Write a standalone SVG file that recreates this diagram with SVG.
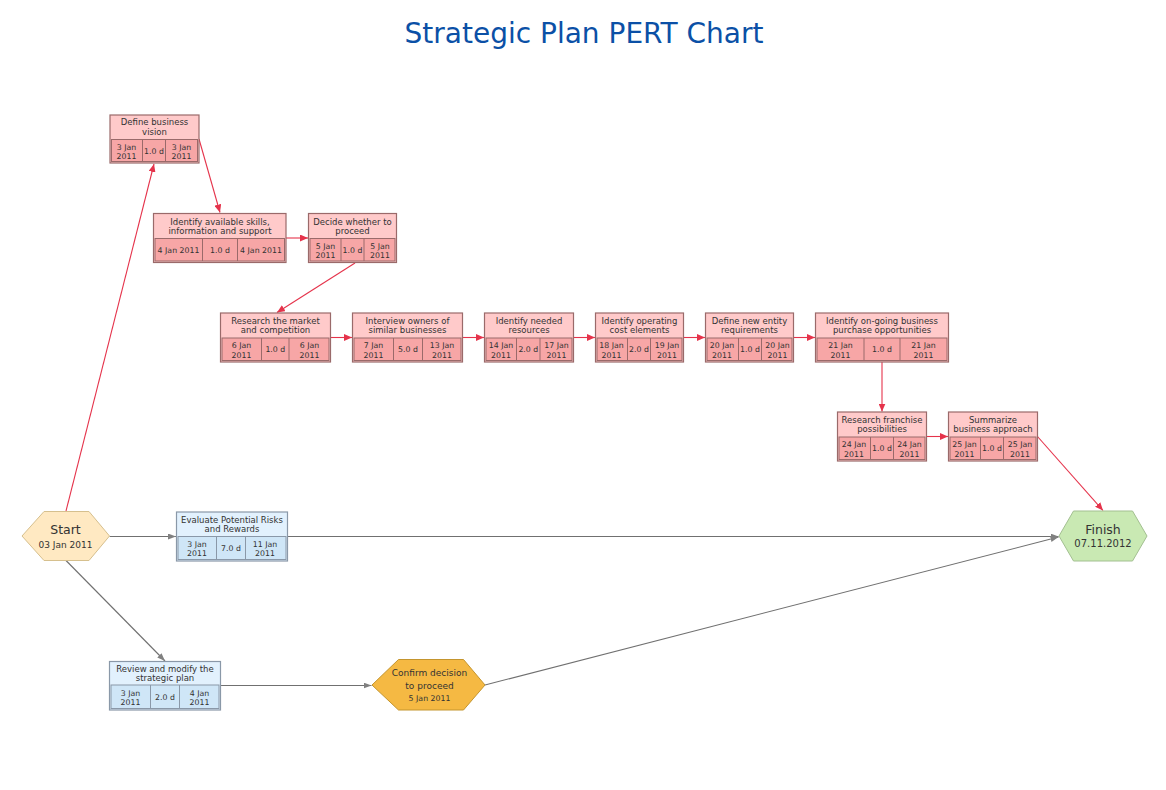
<svg xmlns="http://www.w3.org/2000/svg" width="1166" height="790" viewBox="0 0 1166 790">
<style>
text{font-family:"DejaVu Sans","Liberation Sans",sans-serif;fill:#333;text-anchor:middle}
.title{font-size:28px;fill:#0b50a6}
.t{font-size:8.5px}
.c{font-size:7.8px}
.po{fill:#ffcaca;stroke:#9a6a6a;stroke-width:1.2}
.pc{fill:#f7a6a6;stroke:#9a6a6a;stroke-width:1}
.bo{fill:#e2f1fd;stroke:#8a98a8;stroke-width:1.2}
.bc{fill:#cfe6f7;stroke:#8a98a8;stroke-width:1}
.dv{stroke-width:1}
.pd{stroke:#9a6a6a}
.bd{stroke:#8a98a8}
.red{stroke:#e5334b;stroke-width:1.1;fill:none;marker-end:url(#ar)}
.gry{stroke:#707070;stroke-width:1.1;fill:none;marker-end:url(#ag)}
.big{font-size:12.5px}
.sm{font-size:9px}
</style>
<defs>
<marker id="ar" markerUnits="userSpaceOnUse" markerWidth="9" markerHeight="7" refX="8" refY="3.5" orient="auto"><path d="M0,0 L8,3.5 L0,7 z" fill="#e5334b"/></marker>
<marker id="ag" markerUnits="userSpaceOnUse" markerWidth="9" markerHeight="7" refX="8" refY="3" orient="auto"><path d="M0,0 L8,3 L0,6 z" fill="#808080"/></marker>
</defs>
<text class="title" x="584" y="42.5">Strategic Plan PERT Chart</text>
<g id="connectors">
<line class="red" x1="66" y1="511" x2="154" y2="164"/>
<line class="red" x1="199" y1="139" x2="220" y2="212.5"/>
<line class="red" x1="286" y1="238" x2="308" y2="238"/>
<line class="red" x1="355" y1="263" x2="277" y2="312.5"/>
<line class="red" x1="330.5" y1="337.5" x2="352" y2="337.5"/>
<line class="red" x1="462.5" y1="337.5" x2="484" y2="337.5"/>
<line class="red" x1="573.5" y1="337.5" x2="595" y2="337.5"/>
<line class="red" x1="683.5" y1="337.5" x2="705" y2="337.5"/>
<line class="red" x1="793.5" y1="337.5" x2="815" y2="337.5"/>
<line class="red" x1="882" y1="362" x2="882" y2="411.5"/>
<line class="red" x1="926.5" y1="436.5" x2="948" y2="436.5"/>
<line class="red" x1="1037.5" y1="436.5" x2="1103" y2="510.5"/>
<line class="gry" x1="109.5" y1="536.5" x2="176" y2="536.5"/>
<line class="gry" x1="287.5" y1="536.5" x2="1058.5" y2="536.5"/>
<line class="gry" x1="66" y1="560.5" x2="165" y2="661"/>
<line class="gry" x1="220.5" y1="685.5" x2="371.5" y2="685.5"/>
<line class="gry" x1="485" y1="685" x2="1058.5" y2="537"/>
</g>
<g id="n1">
<rect class="po" x="110" y="115" width="89" height="48"/>
<rect class="pc" x="111.5" y="139.5" width="86" height="22"/>
<line class="dv pd" x1="142.5" y1="139.5" x2="142.5" y2="161.5"/><line class="dv pd" x1="165.5" y1="139.5" x2="165.5" y2="161.5"/>
<text class="t" x="154.5" y="125">Define business</text><text class="t" x="154.5" y="134.5">vision</text>
<text class="c" x="126.5" y="149.5">3 Jan</text><text class="c" x="126.5" y="158.5">2011</text>
<text class="c" x="154" y="153.5">1.0 d</text>
<text class="c" x="181.5" y="149.5">3 Jan</text><text class="c" x="181.5" y="158.5">2011</text>
</g>
<g id="n2">
<rect class="po" x="153.5" y="213.5" width="132.5" height="49"/>
<rect class="pc" x="155" y="238.5" width="129.5" height="22.5"/>
<line class="dv pd" x1="202.5" y1="238.5" x2="202.5" y2="261"/><line class="dv pd" x1="237.5" y1="238.5" x2="237.5" y2="261"/>
<text class="t" x="220" y="224.5">Identify available skills,</text><text class="t" x="220" y="233.5">information and support</text>
<text class="c" x="178.5" y="253.3">4 Jan 2011</text>
<text class="c" x="220" y="253.3">1.0 d</text>
<text class="c" x="261" y="253.3">4 Jan 2011</text>
</g>
<g id="n3">
<rect class="po" x="308.5" y="213.5" width="88" height="49"/>
<rect class="pc" x="310" y="238.5" width="85" height="22.5"/>
<line class="dv pd" x1="341" y1="238.5" x2="341" y2="261"/><line class="dv pd" x1="364" y1="238.5" x2="364" y2="261"/>
<text class="t" x="352.5" y="224.5">Decide whether to</text><text class="t" x="352.5" y="233.5">proceed</text>
<text class="c" x="325.5" y="248.5">5 Jan</text><text class="c" x="325.5" y="257.5">2011</text>
<text class="c" x="352.5" y="252.5">1.0 d</text>
<text class="c" x="380" y="248.5">5 Jan</text><text class="c" x="380" y="257.5">2011</text>
</g>
<g id="n4">
<rect class="po" x="220.5" y="313" width="110" height="49"/>
<rect class="pc" x="222" y="338" width="107" height="22.5"/>
<line class="dv pd" x1="261.5" y1="338" x2="261.5" y2="360.5"/><line class="dv pd" x1="289" y1="338" x2="289" y2="360.5"/>
<text class="t" x="275.5" y="324">Research the market</text><text class="t" x="275.5" y="333.3">and competition</text>
<text class="c" x="241.5" y="348.3">6 Jan</text><text class="c" x="241.5" y="357.5">2011</text>
<text class="c" x="275.3" y="352">1.0 d</text>
<text class="c" x="309.5" y="348.3">6 Jan</text><text class="c" x="309.5" y="357.5">2011</text>
</g>
<g id="n5">
<rect class="po" x="352.5" y="313" width="110" height="49"/>
<rect class="pc" x="354" y="338" width="107" height="22.5"/>
<line class="dv pd" x1="393.5" y1="338" x2="393.5" y2="360.5"/><line class="dv pd" x1="422.5" y1="338" x2="422.5" y2="360.5"/>
<text class="t" x="407.5" y="324">Interview owners of</text><text class="t" x="407.5" y="333.3">similar businesses</text>
<text class="c" x="373.5" y="348.3">7 Jan</text><text class="c" x="373.5" y="357.5">2011</text>
<text class="c" x="408" y="352">5.0 d</text>
<text class="c" x="442" y="348.3">13 Jan</text><text class="c" x="442" y="357.5">2011</text>
</g>
<g id="n6">
<rect class="po" x="484.5" y="313" width="89" height="49"/>
<rect class="pc" x="486" y="338" width="86" height="22.5"/>
<line class="dv pd" x1="516.5" y1="338" x2="516.5" y2="360.5"/><line class="dv pd" x1="540" y1="338" x2="540" y2="360.5"/>
<text class="t" x="529" y="324">Identify needed</text><text class="t" x="529" y="333.3">resources</text>
<text class="c" x="501" y="348.3">14 Jan</text><text class="c" x="501" y="357.5">2011</text>
<text class="c" x="528.3" y="352">2.0 d</text>
<text class="c" x="556.5" y="348.3">17 Jan</text><text class="c" x="556.5" y="357.5">2011</text>
</g>
<g id="n7">
<rect class="po" x="595.5" y="313" width="88" height="49"/>
<rect class="pc" x="597" y="338" width="85" height="22.5"/>
<line class="dv pd" x1="627.5" y1="338" x2="627.5" y2="360.5"/><line class="dv pd" x1="650.5" y1="338" x2="650.5" y2="360.5"/>
<text class="t" x="639.5" y="324">Identify operating</text><text class="t" x="639.5" y="333.3">cost elements</text>
<text class="c" x="611.5" y="348.3">18 Jan</text><text class="c" x="611.5" y="357.5">2011</text>
<text class="c" x="639" y="352">2.0 d</text>
<text class="c" x="667" y="348.3">19 Jan</text><text class="c" x="667" y="357.5">2011</text>
</g>
<g id="n8">
<rect class="po" x="705.5" y="313" width="88" height="49"/>
<rect class="pc" x="707" y="338" width="85" height="22.5"/>
<line class="dv pd" x1="738.5" y1="338" x2="738.5" y2="360.5"/><line class="dv pd" x1="761.5" y1="338" x2="761.5" y2="360.5"/>
<text class="t" x="749.5" y="324">Define new entity</text><text class="t" x="749.5" y="333.3">requirements</text>
<text class="c" x="722" y="348.3">20 Jan</text><text class="c" x="722" y="357.5">2011</text>
<text class="c" x="750" y="352">1.0 d</text>
<text class="c" x="777.5" y="348.3">20 Jan</text><text class="c" x="777.5" y="357.5">2011</text>
</g>
<g id="n9">
<rect class="po" x="815.5" y="313" width="133" height="49"/>
<rect class="pc" x="817" y="338" width="130" height="22.5"/>
<line class="dv pd" x1="864" y1="338" x2="864" y2="360.5"/><line class="dv pd" x1="900" y1="338" x2="900" y2="360.5"/>
<text class="t" x="882" y="324">Identify on-going business</text><text class="t" x="882" y="333.3">purchase opportunities</text>
<text class="c" x="840.5" y="348.3">21 Jan</text><text class="c" x="840.5" y="357.5">2011</text>
<text class="c" x="882" y="352">1.0 d</text>
<text class="c" x="923.5" y="348.3">21 Jan</text><text class="c" x="923.5" y="357.5">2011</text>
</g>
<g id="n10">
<rect class="po" x="837.5" y="412" width="89" height="49"/>
<rect class="pc" x="839" y="437" width="86" height="22.5"/>
<line class="dv pd" x1="870.5" y1="437" x2="870.5" y2="459.5"/><line class="dv pd" x1="893.5" y1="437" x2="893.5" y2="459.5"/>
<text class="t" x="882" y="423">Research franchise</text><text class="t" x="882" y="432.3">possibilities</text>
<text class="c" x="854" y="447.3">24 Jan</text><text class="c" x="854" y="456.5">2011</text>
<text class="c" x="882" y="451">1.0 d</text>
<text class="c" x="909.5" y="447.3">24 Jan</text><text class="c" x="909.5" y="456.5">2011</text>
</g>
<g id="n11">
<rect class="po" x="948.5" y="412" width="89" height="49"/>
<rect class="pc" x="950" y="437" width="86" height="22.5"/>
<line class="dv pd" x1="980.5" y1="437" x2="980.5" y2="459.5"/><line class="dv pd" x1="1003.5" y1="437" x2="1003.5" y2="459.5"/>
<text class="t" x="993" y="423">Summarize</text><text class="t" x="993" y="432.3">business approach</text>
<text class="c" x="964.5" y="447.3">25 Jan</text><text class="c" x="964.5" y="456.5">2011</text>
<text class="c" x="992" y="451">1.0 d</text>
<text class="c" x="1020" y="447.3">25 Jan</text><text class="c" x="1020" y="456.5">2011</text>
</g>
<g id="start">
<polygon points="22,536 44,511.5 89,511.5 109.5,536 89,560.5 44,560.5" fill="#ffe9c2" stroke="#d6c08e" stroke-width="1"/>
<text class="big" x="65.5" y="533.5">Start</text>
<text class="sm" x="65.5" y="547.5">03 Jan 2011</text>
</g>
<g id="n12">
<rect class="bo" x="176.5" y="512" width="111" height="49"/>
<rect class="bc" x="178" y="536.5" width="108" height="23"/>
<line class="dv bd" x1="216.5" y1="536.5" x2="216.5" y2="559.5"/><line class="dv bd" x1="245.5" y1="536.5" x2="245.5" y2="559.5"/>
<text class="t" x="232" y="522.5">Evaluate Potential Risks</text><text class="t" x="232" y="532">and Rewards</text>
<text class="c" x="197" y="547">3 Jan</text><text class="c" x="197" y="556">2011</text>
<text class="c" x="231" y="551">7.0 d</text>
<text class="c" x="265" y="547">11 Jan</text><text class="c" x="265" y="556">2011</text>
</g>
<g id="finish">
<polygon points="1059,536 1073.5,511 1132.5,511 1147,536 1132.5,561 1073.5,561" fill="#c9e9b3" stroke="#a3c091" stroke-width="1"/>
<text class="big" x="1103" y="533.5">Finish</text>
<text x="1103" y="547" style="font-size:10px">07.11.2012</text>
</g>
<g id="n13">
<rect class="bo" x="109.5" y="661.5" width="111" height="48.5"/>
<rect class="bc" x="111" y="685" width="108" height="23.5"/>
<line class="dv bd" x1="150.5" y1="685" x2="150.5" y2="708.5"/><line class="dv bd" x1="179.5" y1="685" x2="179.5" y2="708.5"/>
<text class="t" x="165" y="671.5">Review and modify the</text><text class="t" x="165" y="681">strategic plan</text>
<text class="c" x="130.5" y="695.5">3 Jan</text><text class="c" x="130.5" y="704.5">2011</text>
<text class="c" x="165" y="699.5">2.0 d</text>
<text class="c" x="199.5" y="695.5">4 Jan</text><text class="c" x="199.5" y="704.5">2011</text>
</g>
<g id="confirm">
<polygon points="372,685 398.5,659.5 463.5,659.5 485,685 463.5,710 398.5,710" fill="#f5b943" stroke="#c4952e" stroke-width="1"/>
<text x="429.5" y="676" style="font-size:9px">Confirm decision</text>
<text x="429.5" y="688.5" style="font-size:9px">to proceed</text>
<text x="429.5" y="701" style="font-size:7.8px">5 Jan 2011</text>
</g>
</svg>
